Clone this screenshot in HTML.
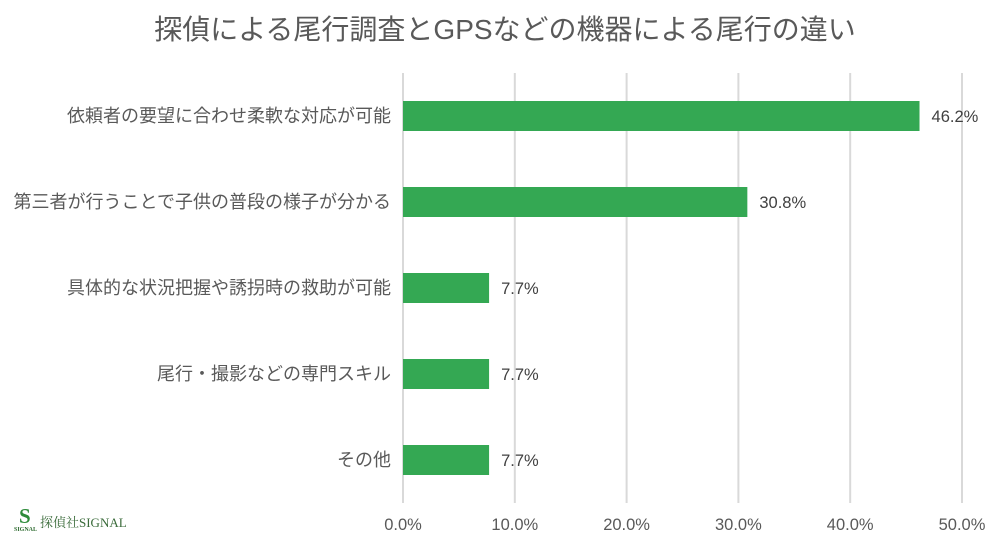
<!DOCTYPE html>
<html><head><meta charset="utf-8"><style>
body{margin:0;width:1005px;height:541px;background:#fff;overflow:hidden;font-family:"Liberation Sans","Noto Sans CJK JP",sans-serif;}
</style></head><body>
<svg id="chart" width="1005" height="541">
<text x="505" y="39" text-anchor="middle" font-size="28" fill="#595959" font-family="Liberation Sans, Noto Sans CJK JP, sans-serif">探偵による尾行調査とGPSなどの機器による尾行の違い</text>
<g id="grid"></g><g id="bars"></g><g id="labels"></g>
<g>
<text x="19" y="523" font-size="21" font-weight="bold" fill="#2e8b3a" font-family="Liberation Serif, serif">S</text>
<text x="14" y="531" font-size="6" font-weight="bold" fill="#2e6b30" font-family="Liberation Serif, serif">SIGNAL</text>
<text x="40" y="527" font-size="13" fill="#3a6b3a" font-family="Liberation Serif, Noto Serif CJK SC, serif">探偵社SIGNAL</text>
</g>
</svg>
<script>
const categories=["依頼者の要望に合わせ柔軟な対応が可能","第三者が行うことで子供の普段の様子が分かる","具体的な状況把握や誘拐時の救助が可能","尾行・撮影などの専門スキル","その他"];
const values=[46.2,30.8,7.7,7.7,7.7];
const ticks=[0,10,20,30,40,50];
const ns="http://www.w3.org/2000/svg";
const x0=403,x1=962,xmax=50,yTop=73,bandH=86,barH=30;
const xs=v=>x0+(x1-x0)*v/xmax;
const yc=i=>yTop+bandH*(i+0.5);
function mk(t,a,p){const e=document.createElementNS(ns,t);for(const k in a)e.setAttribute(k,a[k]);p.appendChild(e);return e;}
const grid=document.getElementById('grid'),bars=document.getElementById('bars'),labels=document.getElementById('labels');
ticks.forEach(t=>{
 const l=mk('line',{x1:xs(t),x2:xs(t),y1:yTop,y2:503,stroke:'#d9d9d9','stroke-width':2},grid);
 
 
 const tx=mk('text',{x:xs(t),y:530,'text-anchor':'middle','font-size':16.5,fill:'#595959'},labels);
 tx.textContent=t.toFixed(1)+'%';
 
 
});
categories.forEach((c,i)=>{
 const r=mk('rect',{x:x0,y:yc(i)-barH/2,width:xs(values[i])-x0,height:barH,fill:'#34a853'},bars);
 
 
 const v=mk('text',{x:xs(values[i])+12,y:yc(i)+6,'font-size':16.5,fill:'#404040'},labels);
 v.textContent=values[i].toFixed(1)+'%';
 
 
 const cl=mk('text',{x:391,y:yc(i)+6,'text-anchor':'end','font-size':18,fill:'#595959'},labels);
 cl.textContent=c;
 
 
});
</script>
</body></html>
